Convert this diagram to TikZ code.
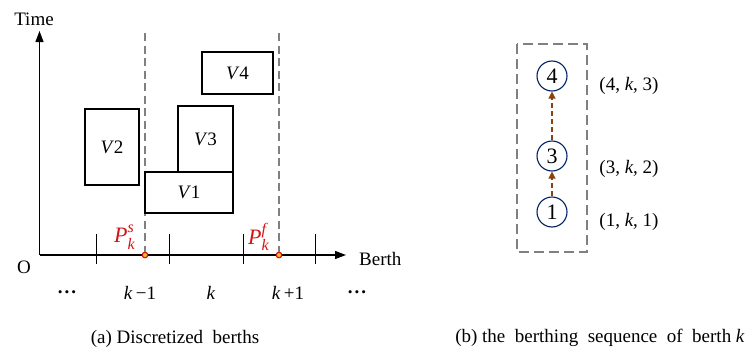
\documentclass[tikz,border=0pt]{standalone}
\usepackage{amsmath}
\usepackage{fontspec}
\setmainfont{Liberation Serif}
\usetikzlibrary{arrows.meta}
\definecolor{dashgray}{RGB}{128,128,128}
\definecolor{navy}{RGB}{0,32,96}
\definecolor{brownarrow}{RGB}{140,65,15}
\definecolor{pred}{RGB}{210,20,20}
\definecolor{dotfill}{RGB}{255,190,40}
\begin{document}
\begin{tikzpicture}[x=1pt,y=-1pt,
  every node/.style={font=\fontsize{19}{22}\selectfont, inner sep=0pt},
  axis/.style={line width=1.3pt, -{Triangle[width=8pt,length=11pt]}},
  tick/.style={line width=0.8pt},
  vbox/.style={draw, line width=2pt},
  guide/.style={draw=dashgray, line width=1.6pt, dash pattern=on 8pt off 4.5pt},
  seqbox/.style={draw=dashgray, line width=1.6pt, dash pattern=on 10pt off 5pt},
  stop/.style={circle, draw=navy, line width=1.1pt, minimum size=30pt, font=\fontsize{22}{24}\selectfont},
  seqarrow/.style={draw=brownarrow, line width=1.2pt, dash pattern=on 5pt off 3pt, -{Triangle[width=7pt,length=7pt,fill=brownarrow]}},
  pt/.style={circle, draw=pred, fill=dotfill, line width=1.2pt, minimum size=5.5pt},
  plabel/.style={text=pred, font=\fontsize{22}{24}\selectfont},
  dots/.style={font=\fontsize{19}{22}\selectfont\bfseries},
]
\useasboundingbox (0,0) rectangle (753,351);

% axes
\coordinate (origin) at (39.5,255);
\coordinate (ytop) at (39.5,31);
\coordinate (xend) at (346,255);
\draw[axis] (origin) -- (ytop);
\draw[axis] (origin) -- (xend);
\node (time) at (34,19) {Time};
\node (O) at (24,267) {O};
\node[anchor=west] (berth) at (359,259) {Berth};

% ticks
\foreach \i/\xx in {t1/96,t2/169,t3/243,t4/315}{
  \coordinate (\i a) at (\xx,234);
  \coordinate (\i b) at (\xx,264);
  \draw[tick] (\i a) -- (\i b);
}

% dashed guides
\coordinate (g1top) at (145,33);
\coordinate (g2top) at (279,33);
\node[pt] (ps) at (145,255) {};
\node[pt] (pf) at (279,255) {};
\draw[guide] (g1top) -- (ps);
\draw[guide] (g2top) -- (pf);

% vessel boxes
\node[vbox, minimum width=54pt, minimum height=76pt] (V2) at (112,147) {\textit{V}2};
\node[vbox, minimum width=55pt, minimum height=66pt] (V3) at (205.5,139) {\textit{V}3};
\node[vbox, minimum width=88pt, minimum height=41pt] (V1) at (189,192.5) {\textit{V}1};
\node[vbox, minimum width=71pt, minimum height=42pt] (V4) at (237.5,73) {\textit{V}4};

% P labels
\node[plabel] (Pks) at (124,237) {\textit{P}\raisebox{-0.3em}{\makebox[0pt][l]{\fontsize{16}{18}\selectfont\textit{k}}}\raisebox{0.45em}{\fontsize{16}{18}\selectfont\textit{s}}};
\node[plabel] (Pkf) at (258,237) {\textit{P}\raisebox{-0.3em}{\makebox[0pt][l]{\fontsize{16}{18}\selectfont\textit{k}}}\raisebox{0.45em}{\fontsize{16}{18}\selectfont\textit{f}}};

% berth labels
\node[dots] (dots1) at (67,292) {.\hspace{2pt}.\hspace{2pt}.};
\node (km1) at (140,293) {\textit{k}\,−1};
\node (kk) at (211,293) {\textit{k}};
\node (kp1) at (288,293) {\textit{k}\,+1};
\node[dots] (dots2) at (357,292) {.\hspace{2pt}.\hspace{2pt}.};

\node (capa) at (175,339) {(a) Discretized\enspace berths};

% right panel
\draw[seqbox] (517,44) rectangle (587,252);
\node[stop] (s4) at (552,76) {4};
\node[stop] (s3) at (552,156) {3};
\node[stop] (s1) at (552,212) {1};
\draw[seqarrow] (s1) -- (s3);
\draw[seqarrow] (s3) -- (s4);
\node (l4) at (629,86) {(4, \textit{k}, 3)};
\node (l3) at (629,169) {(3, \textit{k}, 2)};
\node (l1) at (629,222) {(1, \textit{k}, 1)};

\node (capb) at (600,338) {(b) the\enspace berthing\enspace sequence\enspace of\enspace berth \textit{k}};
\end{tikzpicture}
\end{document}
